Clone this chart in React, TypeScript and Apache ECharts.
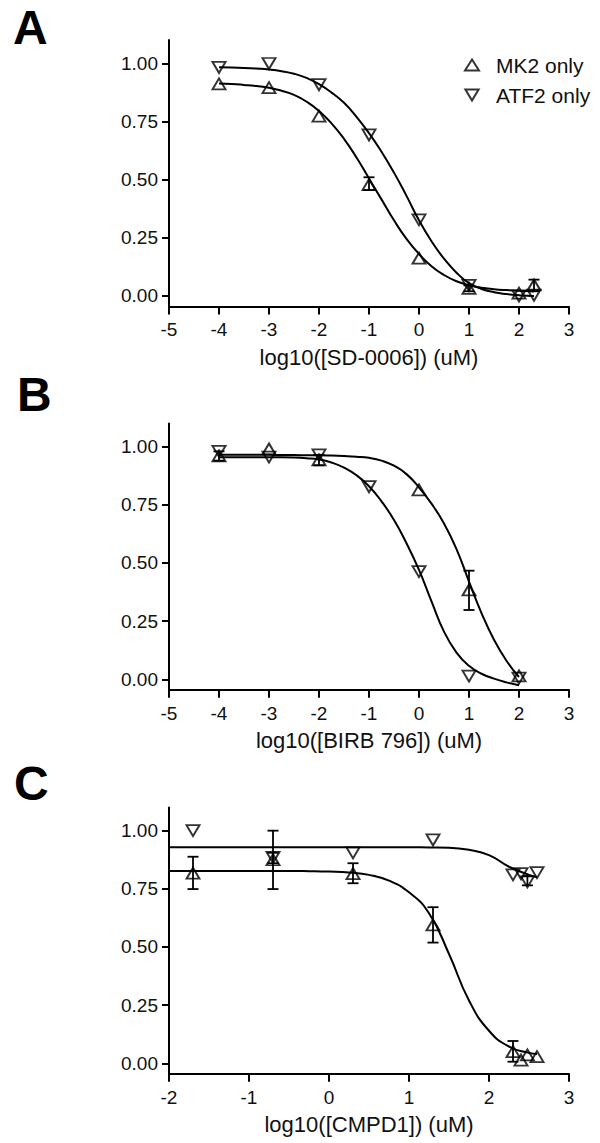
import React, { useEffect, useRef } from "react";
import * as echarts from "echarts";

// ---------- data ----------
const yTicks = [0, 0.25, 0.5, 0.75, 1.0];

// Panel A: SD-0006
const xA = [-4, -3, -2, -1, 0, 1, 2, 2.3];
const mk2A = [0.911, 0.895, 0.773, 0.478, 0.162, 0.033, 0.012, 0.047];
const atf2A = [0.982, 0.999, 0.908, 0.692, 0.327, 0.045, 0.0, 0.003];
const errMk2A = [[-1, 0.455, 0.51], [1, 0.02, 0.045], [2.3, 0.02, 0.07]];
const fitXA = [-4, -3.75, -3.5, -3.25, -3, -2.75, -2.5, -2.25, -2, -1.75, -1.5, -1.25, -1, -0.75, -0.5, -0.25, 0, 0.25, 0.5, 0.75, 1, 1.25, 1.5, 1.75, 2, 2.25, 2.3];
const fitMk2A = [0.913, 0.911, 0.907, 0.902, 0.895, 0.882, 0.864, 0.835, 0.795, 0.742, 0.675, 0.595, 0.505, 0.415, 0.325, 0.245, 0.18, 0.128, 0.09, 0.063, 0.046, 0.035, 0.029, 0.025, 0.022, 0.02, 0.019];
const fitAtf2A = [0.983, 0.982, 0.98, 0.977, 0.973, 0.966, 0.955, 0.937, 0.91, 0.874, 0.83, 0.77, 0.7, 0.62, 0.53, 0.43, 0.325, 0.235, 0.16, 0.1, 0.055, 0.03, 0.016, 0.008, 0.003, 0.0, 0.0];

// Panel B: BIRB 796
const xBmk2 = [-4, -3, -2, 0, 1, 2];
const mk2B = [0.96, 0.99, 0.943, 0.814, 0.384, 0.015];
const xBatf2 = [-4, -3, -2, -1, 0, 1, 2];
const atf2B = [0.98, 0.955, 0.965, 0.828, 0.463, 0.014, 0.005];
const errMk2B = [[-4, 0.94, 0.98], [-2, 0.92, 0.965], [1, 0.298, 0.467]];
const fitXB = [-4, -3.75, -3.5, -3.25, -3, -2.75, -2.5, -2.25, -2, -1.75, -1.5, -1.25, -1, -0.75, -0.5, -0.25, 0, 0.25, 0.5, 0.75, 1, 1.25, 1.5, 1.75, 2];
const fitMk2B = [0.965, 0.965, 0.965, 0.965, 0.965, 0.964, 0.964, 0.963, 0.963, 0.962, 0.96, 0.957, 0.952, 0.94, 0.918, 0.882, 0.825, 0.755, 0.67, 0.56, 0.42, 0.285, 0.17, 0.08, 0.01];
const fitAtf2B = [0.955, 0.955, 0.955, 0.955, 0.954, 0.954, 0.953, 0.95, 0.945, 0.932, 0.91, 0.877, 0.83, 0.765, 0.685, 0.585, 0.47, 0.335, 0.205, 0.115, 0.058, 0.024, 0.003, -0.013, -0.025];

// Panel C: CMPD1
const xC = [-1.7, -0.7, 0.3, 1.3, 2.3, 2.4, 2.48, 2.6];
const mk2C = [0.817, 0.875, 0.815, 0.595, 0.05, 0.014, 0.036, 0.029];
const atf2C = [1.0, 0.885, 0.905, 0.96, 0.81, 0.815, 0.78, 0.82];
const errMk2C = [[-1.7, 0.749, 0.888], [-0.7, 0.749, 1.0], [0.3, 0.774, 0.86], [1.3, 0.519, 0.671], [2.3, 0.007, 0.096]];
const errAtf2C = [[-0.7, 0.86, 0.905], [2.48, 0.765, 0.805]];
const fitXC = [-2, -1.75, -1.5, -1.25, -1, -0.75, -0.5, -0.25, 0, 0.25, 0.5, 0.75, 1, 1.25, 1.5, 1.75, 2, 2.25, 2.5, 2.6];
const fitMk2C = [0.827, 0.827, 0.827, 0.827, 0.827, 0.827, 0.827, 0.826, 0.824, 0.82, 0.81, 0.785, 0.735, 0.645, 0.47, 0.27, 0.14, 0.072, 0.045, 0.04];
const fitAtf2C = [0.929, 0.929, 0.929, 0.929, 0.929, 0.929, 0.929, 0.929, 0.929, 0.929, 0.929, 0.929, 0.929, 0.928, 0.927, 0.918, 0.895, 0.845, 0.81, 0.8];

const panelLetters = ["A", "B", "C"];
const axisTitles = ["log10([SD-0006]) (uM)", "log10([BIRB 796]) (uM)", "log10([CMPD1]) (uM)"];
const xRanges = [[-5, 3], [-5, 3], [-2, 3]];
const legendNames = ["MK2 only", "ATF2 only"];

// ---------- layout ----------
const FONT = "'Liberation Sans', Arial, Helvetica, sans-serif";
const INK = "#111";
const MARK = "#000";
const gridTops = [40, 423.4, 807.4];
const letterPos = [[13, 27], [17, 394], [14, 783]];
const DOWN_TRI = "path://M0,0L12,0L6,10Z";

const pair = (xs: number[], ys: number[]) => xs.map((x, i) => [x, ys[i]]);

function errorSeries(data: number[][], idx: number, name: string) {
  return {
    type: "custom",
    name,
    xAxisIndex: idx,
    yAxisIndex: idx,
    z: 2,
    silent: true,
    encode: { x: 0, y: [1, 2] },
    data,
    renderItem: (params: any, api: any) => {
      const x = api.value(0);
      const lo = api.coord([x, api.value(1)]);
      const hi = api.coord([x, api.value(2)]);
      const w = 5.5;
      const st = { stroke: MARK, lineWidth: 1.8 };
      return {
        type: "group",
        children: [
          { type: "line", shape: { x1: lo[0], y1: lo[1], x2: hi[0], y2: hi[1] }, style: st },
          { type: "line", shape: { x1: hi[0] - w, y1: hi[1], x2: hi[0] + w, y2: hi[1] }, style: st },
          { type: "line", shape: { x1: lo[0] - w, y1: lo[1], x2: lo[0] + w, y2: lo[1] }, style: st },
        ],
      };
    },
  };
}

function scatter(name: string, data: number[][], idx: number, down: boolean) {
  return {
    type: "scatter",
    name,
    xAxisIndex: idx,
    yAxisIndex: idx,
    z: 4,
    symbol: down ? DOWN_TRI : "triangle",
    symbolSize: [13, 11],
    itemStyle: { color: "rgba(255,255,255,0)", borderColor: MARK, borderWidth: 1.9 },
    data,
  };
}

function fitLine(name: string, xs: number[], ys: number[], idx: number) {
  return {
    type: "line",
    name,
    xAxisIndex: idx,
    yAxisIndex: idx,
    z: 3,
    smooth: 0.5,
    showSymbol: false,
    symbol: "none",
    silent: true,
    lineStyle: { color: MARK, width: 2 },
    data: pair(xs, ys),
  };
}

export default function App() {
  const ref = useRef<HTMLDivElement>(null);

  useEffect(() => {
    if (!ref.current) return;
    const chart = echarts.init(ref.current, undefined, { renderer: "svg" });

    const grids = gridTops.map((t) => ({ left: 169, width: 400, top: t, height: 266.4, containLabel: false }));

    const xAxes = xRanges.map((r, i) => ({
      type: "value",
      gridIndex: i,
      min: r[0],
      max: r[1],
      interval: 1,
      name: axisTitles[i],
      nameLocation: "middle",
      nameGap: 40,
      nameTextStyle: { fontSize: 22, color: INK, fontFamily: FONT },
      axisLine: { show: true, onZero: false, lineStyle: { color: MARK, width: 2 } },
      axisTick: { show: true, inside: false, length: 8, lineStyle: { color: MARK, width: 2 } },
      axisLabel: { fontSize: 19, color: INK, fontFamily: FONT, margin: 14 },
      splitLine: { show: false },
    }));

    const yAxes = gridTops.map((_, i) => ({
      type: "value",
      gridIndex: i,
      min: -0.045,
      max: 1.1,
      axisLine: { show: true, onZero: false, lineStyle: { color: MARK, width: 2 } },
      axisTick: { show: true, inside: false, length: 7, lineStyle: { color: MARK, width: 2 }, customValues: yTicks },
      axisLabel: {
        fontSize: 19,
        color: INK,
        fontFamily: FONT,
        margin: 11,
        customValues: yTicks,
        formatter: (v: number) => v.toFixed(2),
      },
      splitLine: { show: false },
    }));

    const series: any[] = [
      // A
      errorSeries(errMk2A, 0, "errA"),
      fitLine("fitMk2A", fitXA, fitMk2A, 0),
      fitLine("fitAtf2A", fitXA, fitAtf2A, 0),
      scatter(legendNames[0], pair(xA, mk2A), 0, false),
      scatter(legendNames[1], pair(xA, atf2A), 0, true),
      // B
      errorSeries(errMk2B, 1, "errB"),
      fitLine("fitMk2B", fitXB, fitMk2B, 1),
      fitLine("fitAtf2B", fitXB, fitAtf2B, 1),
      scatter("MK2 only B", pair(xBmk2, mk2B), 1, false),
      scatter("ATF2 only B", pair(xBatf2, atf2B), 1, true),
      // C
      errorSeries(errMk2C, 2, "errC1"),
      errorSeries(errAtf2C, 2, "errC2"),
      fitLine("fitMk2C", fitXC, fitMk2C, 2),
      fitLine("fitAtf2C", fitXC, fitAtf2C, 2),
      scatter("MK2 only C", pair(xC, mk2C), 2, false),
      scatter("ATF2 only C", pair(xC, atf2C), 2, true),
    ];

    chart.setOption({
      animation: false,
      backgroundColor: "#fff",
      grid: grids,
      xAxis: xAxes,
      yAxis: yAxes,
      legend: {
        data: legendNames,
        orient: "vertical",
        left: 459,
        top: 49.5,
        itemWidth: 14,
        itemHeight: 11,
        itemGap: 9,
        selectedMode: false,
        textStyle: { fontSize: 21, color: INK, fontFamily: FONT, padding: [0, 0, 0, 12] },
      },
      graphic: panelLetters.map((t, i) => ({
        type: "text",
        x: letterPos[i][0],
        y: letterPos[i][1],
        style: {
          text: t,
          fontSize: 48,
          lineHeight: 42,
          fontWeight: "bold",
          fontFamily: FONT,
          fill: "#000",
          verticalAlign: "middle",
          align: "left",
        },
      })),
      series,
    });

    return () => chart.dispose();
  }, []);

  return (
    <div
      ref={ref}
      style={{ position: "absolute", left: 0, top: 0, width: 600, height: 1143, background: "#fff" }}
    />
  );
}
